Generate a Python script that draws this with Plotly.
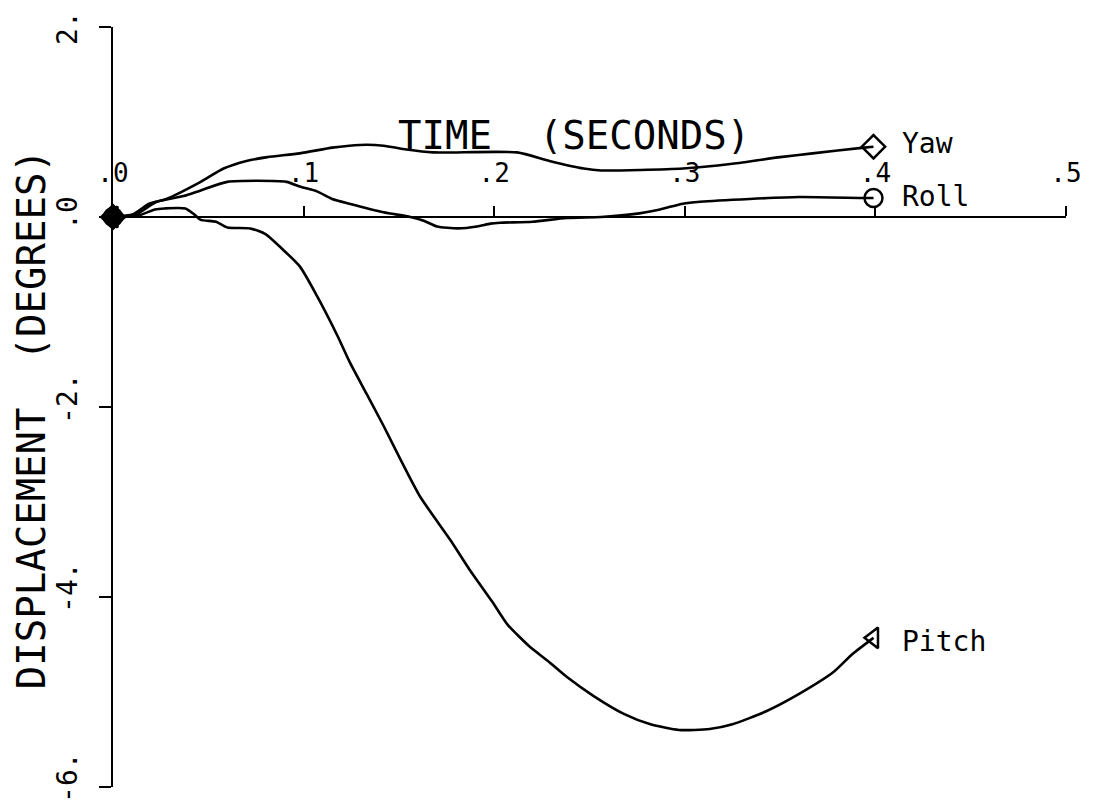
import plotly.graph_objects as go

FONT = "DejaVu Sans Mono"

# Time base (seconds) and displacement (degrees) for each channel
pitch_t = [0, 0.014, 0.022, 0.027, 0.038, 0.043, 0.046, 0.054, 0.060, 0.072, 0.080, 0.089,
           0.098, 0.107, 0.118, 0.124, 0.133, 0.142, 0.151, 0.161, 0.177, 0.187, 0.199,
           0.207, 0.219, 0.228, 0.238, 0.252, 0.268, 0.282, 0.297, 0.313, 0.325, 0.343,
           0.360, 0.378, 0.388, 0.399]
pitch_v = [0, 0.02, 0.08, 0.09, 0.09, 0.02, -0.03, -0.05, -0.11, -0.12, -0.18, -0.34,
           -0.52, -0.83, -1.26, -1.52, -1.86, -2.20, -2.56, -2.94, -3.40, -3.71, -4.05,
           -4.29, -4.53, -4.67, -4.84, -5.04, -5.23, -5.34, -5.40, -5.39, -5.34, -5.20,
           -5.02, -4.79, -4.60, -4.43]

yaw_t = [0, 0.0105, 0.019, 0.028, 0.046, 0.058, 0.070, 0.081, 0.098, 0.115, 0.124, 0.133,
         0.142, 0.154, 0.168, 0.212, 0.229, 0.247, 0.256, 0.299, 0.325, 0.350, 0.367,
         0.394, 0.399]
yaw_v = [0, 0.03, 0.14, 0.19, 0.37, 0.51, 0.59, 0.63, 0.67, 0.73, 0.75, 0.76,
         0.75, 0.71, 0.68, 0.68, 0.59, 0.51, 0.49, 0.51, 0.56, 0.63, 0.67,
         0.73, 0.74]

roll_t = [0, 0.0105, 0.023, 0.037, 0.046, 0.060, 0.091, 0.098, 0.107, 0.115, 0.124, 0.142,
          0.156, 0.163, 0.170, 0.181, 0.191, 0.198, 0.203, 0.220, 0.238, 0.256, 0.273,
          0.287, 0.299, 0.308, 0.334, 0.360, 0.394, 0.399]
roll_v = [0, 0.01, 0.16, 0.22, 0.28, 0.37, 0.37, 0.32, 0.27, 0.19, 0.14, 0.05,
          0.00, -0.04, -0.10, -0.12, -0.10, -0.07, -0.06, -0.05, -0.01, 0.00, 0.03,
          0.08, 0.14, 0.16, 0.19, 0.21, 0.20, 0.20]

x_ticks = [0, 0.1, 0.2, 0.3, 0.4, 0.5]
x_ticktext = [".0", ".1", ".2", ".3", ".4", ".5"]
y_ticks = [-6, -4, -2, 0, 2]
y_ticktext = ["-6.", "-4.", "-2.", ".0", "2."]
y_label_shift = [10, 10, 9, 4, -1]   # plotter put the labels a little above their ticks

series = [
    ("Yaw", yaw_t, yaw_v, "diamond", 3),
    ("Roll", roll_t, roll_v, "circle", 2),
    ("Pitch", pitch_t, pitch_v, "triangle-left", -4),
]

fig = go.Figure()
for name, t, v, sym, ysh in series:
    fig.add_trace(go.Scatter(x=t, y=v, mode="lines", name=name, showlegend=False,
                             line=dict(color="black", width=2.6, shape="spline", smoothing=0.6),
                             cliponaxis=False))
    # filled marker at the start, open marker at the end
    fig.add_trace(go.Scatter(x=[t[0], t[-1]], y=[v[0], v[-1]], mode="markers", showlegend=False,
                             marker=dict(symbol=[sym, sym + "-open"], size=18, color="black",
                                         line=dict(color="black", width=2.5)),
                             cliponaxis=False))
    fig.add_annotation(x=t[-1], y=v[-1], text=name, showarrow=False, xanchor="left",
                       xshift=27, yshift=ysh, font=dict(family=FONT, size=28, color="black"))

# rotated y tick labels
for val, txt, sh in zip(y_ticks, y_ticktext, y_label_shift):
    fig.add_annotation(xref="paper", x=-0.0483, y=val, text=txt, textangle=-90,
                       showarrow=False, xanchor="center", yshift=sh,
                       font=dict(family=FONT, size=28, color="black"))

fig.add_annotation(x=0.242, y=0.86, text="TIME  (SECONDS)", showarrow=False,
                   font=dict(family=FONT, size=39, color="black"))
fig.add_annotation(xref="paper", yref="paper", x=-0.086, y=0.484, text="DISPLACEMENT  (DEGREES)",
                   textangle=-90, showarrow=False, xanchor="center",
                   font=dict(family=FONT, size=39, color="black"))

# the page body adds an 8px margin at top/left; size the div to end at the window edge
fig.update_layout(
    width=1087, height=796,
    margin=dict(l=105, r=29, t=19, b=17, pad=0),
    paper_bgcolor="white", plot_bgcolor="white",
    font=dict(family=FONT, color="black"),
    xaxis=dict(range=[0, 0.5], anchor="free", position=0.75, side="top",
               tickvals=x_ticks, ticktext=x_ticktext, ticks="outside", ticklen=10, tickwidth=2,
               tickcolor="black", showline=True, linecolor="black", linewidth=2,
               showgrid=False, zeroline=False, tickfont=dict(family=FONT, size=26),
               ticklabelstandoff=14, ticklabeloverflow="allow", automargin=False),
    yaxis=dict(range=[-6, 2], tickvals=y_ticks, showticklabels=False,
               ticks="outside", ticklen=12, tickwidth=2, tickcolor="black",
               showline=True, linecolor="black", linewidth=2, showgrid=False, zeroline=False,
               automargin=False),
)

fig.write_html("out.html")
